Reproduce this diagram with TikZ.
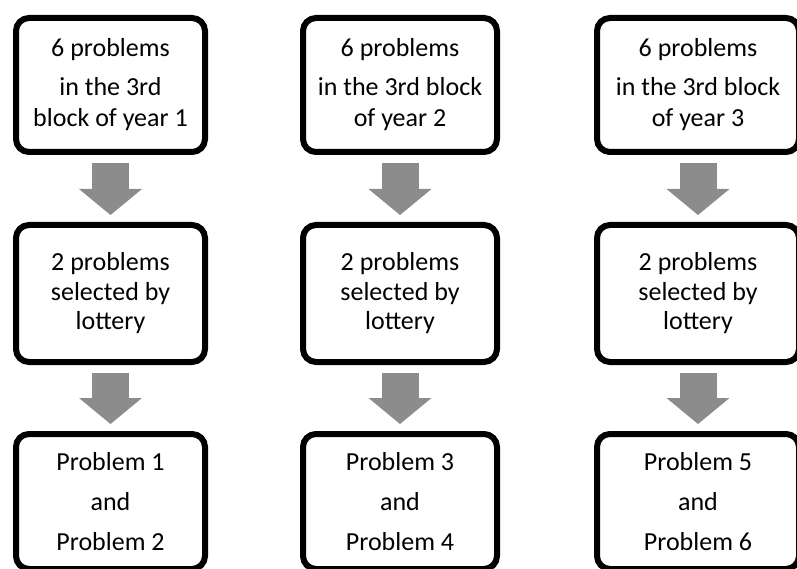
\documentclass[tikz,border=0pt]{standalone}
\usepackage{fontspec}
\setmainfont{Carlito}
\usetikzlibrary{arrows.meta}
\definecolor{arrowgray}{RGB}{140,140,140}
\tikzset{
  box/.style={draw=black, line width=6pt, rounded corners=13pt, fill=white,
    align=center, inner sep=0pt, font=\fontsize{26}{31}\selectfont},
  flow/.style={draw=arrowgray, line width=37pt,
    -{Triangle[line width=0pt,width=63pt,length=26pt,fill=arrowgray]},
    shorten <=8pt, shorten >=7pt}
}
\begin{document}
\begin{tikzpicture}[x=1pt,y=-1pt]
\useasboundingbox (0,0) rectangle (797,569);
% column 1
\node[box, minimum width=189pt, minimum height=134pt] (t1) at (110.5,85)
  {6 problems\\[8pt]in the 3rd\\block of year 1};
\node[box, minimum width=189pt, minimum height=137pt] (m1) at (110.5,293.5)
  {2 problems\\[-1.5pt]selected by\\[-1.5pt]lottery};
\node[box, minimum width=189pt, minimum height=135pt] (b1) at (110.5,501.5)
  {Problem 1\\[9pt]and\\[9pt]Problem 2};
% column 2
\node[box, minimum width=194pt, minimum height=134pt] (t2) at (400,85)
  {6 problems\\[8pt]in the 3rd block\\of year 2};
\node[box, minimum width=194pt, minimum height=137pt] (m2) at (400,293.5)
  {2 problems\\[-1.5pt]selected by\\[-1.5pt]lottery};
\node[box, minimum width=194pt, minimum height=135pt] (b2) at (400,501.5)
  {Problem 3\\[9pt]and\\[9pt]Problem 4};
% column 3
\node[box, minimum width=202pt, minimum height=134pt] (t3) at (698,85)
  {6 problems\\[8pt]in the 3rd block\\of year 3};
\node[box, minimum width=202pt, minimum height=137pt] (m3) at (698,293.5)
  {2 problems\\[-1.5pt]selected by\\[-1.5pt]lottery};
\node[box, minimum width=202pt, minimum height=135pt] (b3) at (698,501.5)
  {Problem 5\\[9pt]and\\[9pt]Problem 6};
% arrows
\draw[flow] (t1) -- (m1);
\draw[flow] (m1) -- (b1);
\draw[flow] (t2) -- (m2);
\draw[flow] (m2) -- (b2);
\draw[flow] (t3) -- (m3);
\draw[flow] (m3) -- (b3);
\end{tikzpicture}
\end{document}
